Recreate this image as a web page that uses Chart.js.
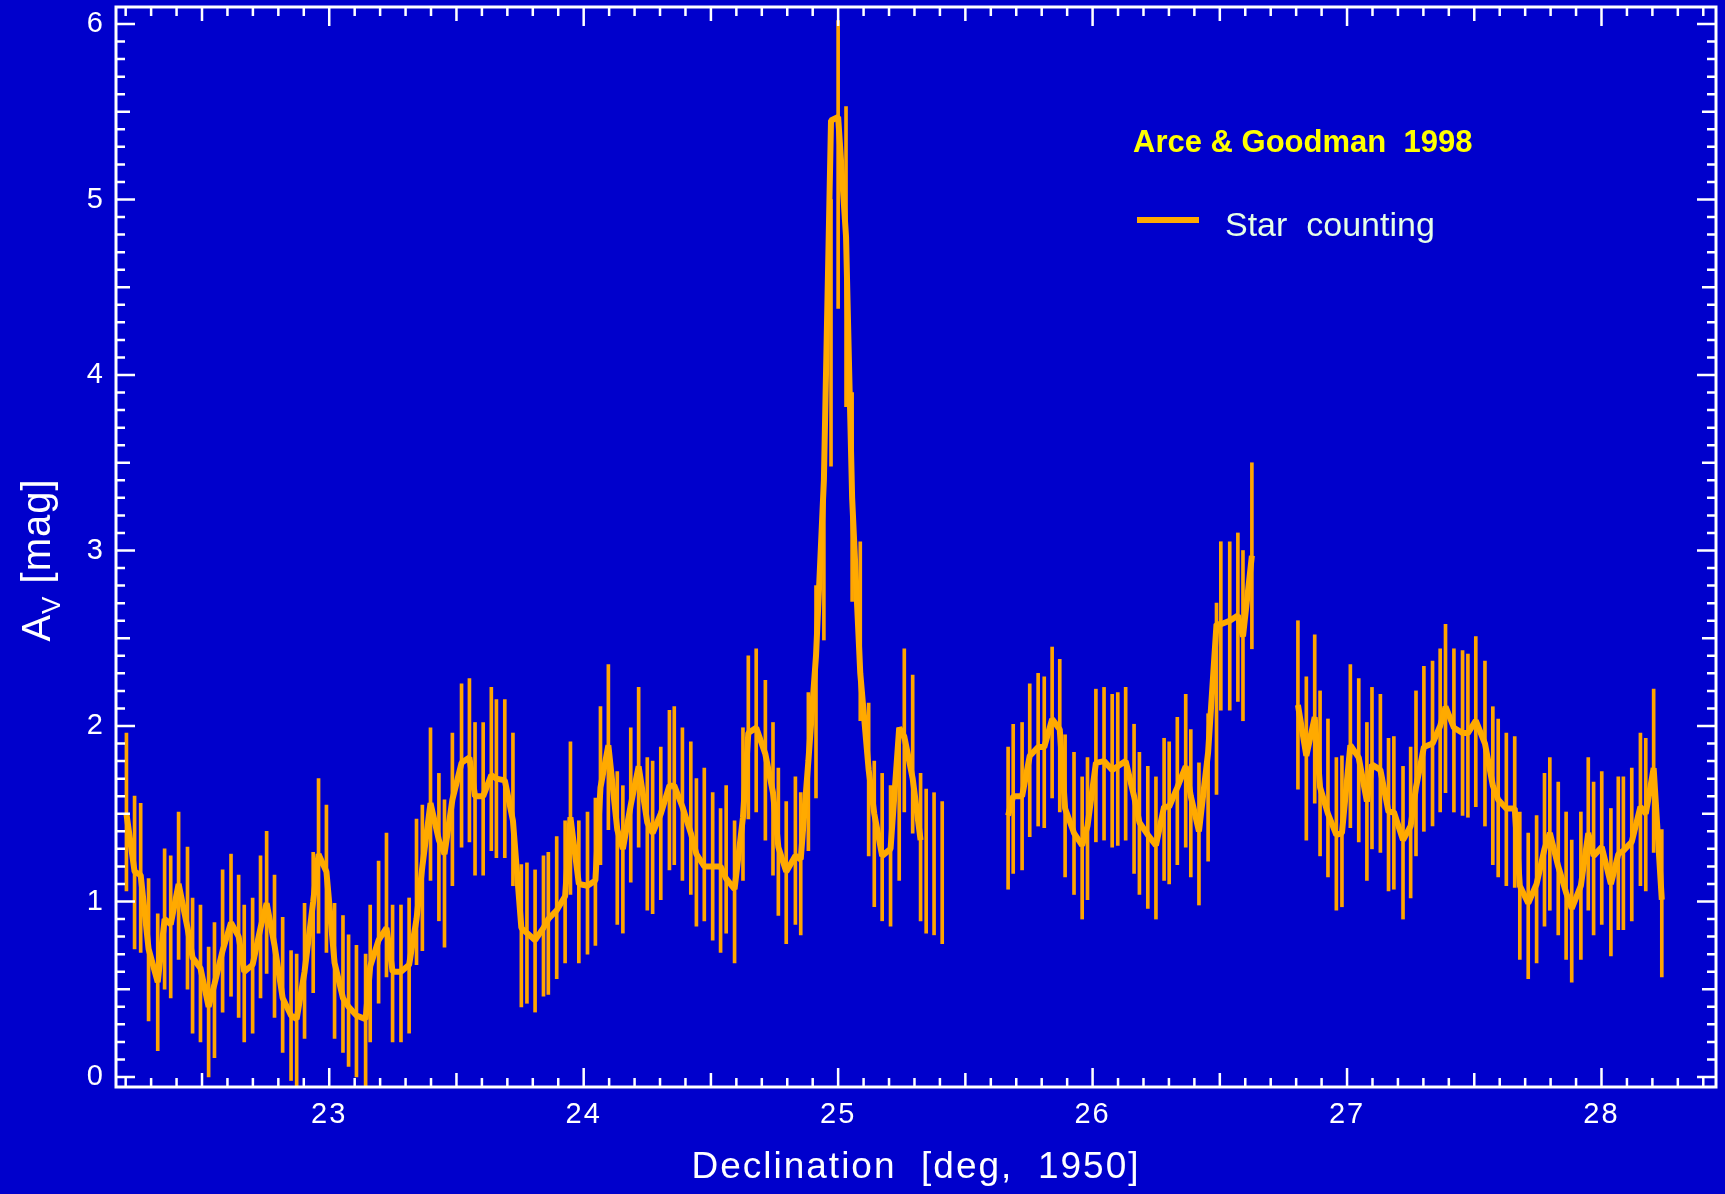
<!DOCTYPE html>
<html>
<head>
<meta charset="utf-8">
<script src="https://cdn.jsdelivr.net/npm/chart.js@4.4.1/dist/chart.umd.min.js"></script>
<style>
  html, body { margin: 0; padding: 0; background: #0000cc; overflow: hidden; }
  canvas { display: block; }
</style>
</head>
<body>
<canvas id="myChart" width="1725" height="1194"></canvas>
<script>
// Declination [deg] of each sample
const dec = [
  22.203, 22.235, 22.259, 22.290, 22.326, 22.353, 22.377, 22.408, 22.443, 22.463, 22.494, 22.526,
  22.549, 22.581, 22.614, 22.644, 22.666, 22.699, 22.730, 22.754, 22.785, 22.817, 22.850, 22.872,
  22.903, 22.937, 22.958, 22.989, 23.021, 23.054, 23.076, 23.107, 23.143, 23.161, 23.194, 23.225,
  23.249, 23.282, 23.314, 23.343, 23.366, 23.398, 23.431, 23.453, 23.484, 23.520, 23.551, 23.573,
  23.605, 23.637, 23.657, 23.690, 23.722, 23.755, 23.777, 23.809, 23.842, 23.861, 23.894, 23.927,
  23.948, 23.981, 24.015, 24.046, 24.066, 24.097, 24.132, 24.154, 24.185, 24.216, 24.250, 24.271,
  24.303, 24.337, 24.356, 24.388, 24.421, 24.443, 24.474, 24.507, 24.538, 24.560, 24.593, 24.626,
  24.647, 24.678, 24.714, 24.744, 24.765, 24.796, 24.832, 24.853, 24.883, 24.913, 24.944, 24.972,
  25.000, 25.031, 25.055, 25.087, 25.120, 25.142, 25.173, 25.206, 25.240, 25.260, 25.293, 25.324,
  25.346, 25.377, 25.409,
  25.668, 25.688, 25.723, 25.753, 25.786, 25.810, 25.841, 25.871, 25.892, 25.927, 25.959, 25.980,
  26.013, 26.045, 26.077, 26.099, 26.130, 26.163, 26.184, 26.217, 26.249, 26.281, 26.301, 26.333,
  26.366, 26.386, 26.418, 26.454, 26.487, 26.504, 26.539, 26.571, 26.591, 26.626,
  26.807, 26.840, 26.873, 26.894, 26.925, 26.958, 26.980, 27.013, 27.046, 27.078, 27.098, 27.131,
  27.163, 27.184, 27.220, 27.250, 27.271, 27.302, 27.336, 27.366, 27.387, 27.420, 27.454, 27.475,
  27.506, 27.542, 27.573, 27.594, 27.626, 27.659, 27.679, 27.712, 27.745, 27.776, 27.797, 27.830,
  27.861, 27.883, 27.919, 27.948, 27.969, 28.001, 28.037, 28.066, 28.086, 28.119, 28.153, 28.174,
  28.205, 28.237
];

// A_V from star counting (the thick line)
const av = [
  1.50, 1.17, 1.15, 0.73, 0.54, 0.90, 0.87, 1.10, 0.85, 0.68, 0.62, 0.40,
  0.53, 0.72, 0.88, 0.80, 0.60, 0.64, 0.85, 0.99, 0.75, 0.45, 0.35, 0.33,
  0.60, 1.00, 1.27, 1.17, 0.65, 0.45, 0.40, 0.35, 0.33, 0.63, 0.78, 0.85,
  0.60, 0.60, 0.64, 0.90, 1.20, 1.56, 1.35, 1.27, 1.58, 1.79, 1.82, 1.60,
  1.60, 1.72, 1.70, 1.69, 1.46, 0.85, 0.82, 0.78, 0.85, 0.90, 0.95, 1.03,
  1.48, 1.10, 1.09, 1.12, 1.65, 1.89, 1.41, 1.30, 1.55, 1.77, 1.45, 1.39,
  1.50, 1.66, 1.66, 1.54, 1.39, 1.27, 1.20, 1.20, 1.20, 1.13, 1.07, 1.48,
  1.96, 1.99, 1.84, 1.62, 1.31, 1.17, 1.26, 1.24, 1.80, 2.40, 3.40, 5.45,
  5.47, 4.79, 3.30, 2.30, 1.75, 1.50, 1.26, 1.30, 1.99, 1.94, 1.70, 1.35,
  null, null, null,
  1.49, 1.60, 1.60, 1.83, 1.88, 1.88, 2.04, 1.98, 1.53, 1.39, 1.32, 1.43,
  1.79, 1.80, 1.75, 1.77, 1.80, 1.60, 1.45, 1.38, 1.32, 1.54, 1.54, 1.65,
  1.77, 1.60, 1.40, 1.85, 2.58, 2.58, 2.60, 2.63, 2.51, 2.97,
  2.12, 1.83, 2.05, 1.65, 1.50, 1.38, 1.39, 1.89, 1.82, 1.57, 1.78, 1.75,
  1.51, 1.51, 1.35, 1.43, 1.65, 1.88, 1.90, 2.00, 2.11, 1.99, 1.96, 1.96,
  2.03, 1.90, 1.66, 1.58, 1.53, 1.53, 1.09, 0.99, 1.10, 1.30, 1.39, 1.20,
  1.05, 0.96, 1.09, 1.39, 1.26, 1.31, 1.10, 1.27, 1.29, 1.34, 1.54, 1.50,
  1.76, 1.01
];

// error bar ends
const avLo = [
  1.06, 0.73, 0.71, 0.32, 0.15, 0.50, 0.45, 0.67, 0.50, 0.25, 0.20, 0.00,
  0.11, 0.37, 0.46, 0.34, 0.20, 0.25, 0.45, 0.59, 0.34, 0.14, -0.02, -0.08,
  0.22, 0.48, 0.82, 0.71, 0.22, 0.14, 0.06, 0.00, -0.07, 0.20, 0.42, 0.57,
  0.20, 0.20, 0.25, 0.64, 0.72, 1.12, 0.89, 0.74, 1.09, 1.31, 1.34, 1.15,
  1.15, 1.29, 1.25, 1.25, 1.09, 0.40, 0.42, 0.37, 0.46, 0.47, 0.56, 0.65,
  1.04, 0.65, 0.70, 0.75, 1.21, 1.41, 0.87, 0.82, 1.11, 1.31, 0.95, 0.93,
  1.01, 1.18, 1.21, 1.12, 1.04, 0.86, 0.89, 0.78, 0.71, 0.82, 0.65, 1.12,
  1.47, 1.51, 1.35, 1.15, 0.92, 0.76, 0.87, 0.81, 1.29, 1.59, 2.49, 3.48,
  4.38, 3.82, 2.71, 2.03, 1.26, 0.97, 0.89, 0.86, 1.12, 1.51, 1.39, 0.89,
  0.82, 0.81, 0.76,
  1.07, 1.16, 1.18, 1.37, 1.43, 1.42, 1.59, 1.51, 1.14, 1.04, 0.90, 1.01,
  1.34, 1.35, 1.31, 1.32, 1.35, 1.16, 1.04, 0.96, 0.90, 1.12, 1.10, 1.21,
  1.31, 1.14, 0.98, 1.23, 1.61, 2.09, 2.09, 2.14, 2.03, 2.44,
  1.64, 1.35, 1.56, 1.26, 1.14, 0.95, 0.97, 1.42, 1.34, 1.12, 1.30, 1.28,
  1.06, 1.07, 0.90, 1.02, 1.26, 1.40, 1.43, 1.51, 1.62, 1.51, 1.49, 1.48,
  1.54, 1.43, 1.21, 1.14, 1.09, 1.08, 0.67, 0.56, 0.65, 0.86, 0.95, 0.81,
  0.67, 0.54, 0.67, 0.95, 0.81, 0.87, 0.69, 0.84, 0.84, 0.89, 1.09, 1.06,
  1.28, 0.57
];

const avHi = [
  1.96, 1.60, 1.56, 1.13, 0.93, 1.30, 1.26, 1.51, 1.31, 1.02, 0.98, 0.74,
  0.88, 1.18, 1.27, 1.15, 0.98, 1.02, 1.26, 1.40, 1.15, 0.91, 0.72, 0.70,
  0.99, 1.28, 1.70, 1.55, 0.99, 0.92, 0.81, 0.75, 0.70, 0.98, 1.23, 1.39,
  0.98, 0.98, 1.02, 1.47, 1.55, 1.99, 1.73, 1.58, 1.96, 2.24, 2.27, 2.02,
  2.02, 2.22, 2.15, 2.15, 1.96, 1.21, 1.22, 1.18, 1.26, 1.28, 1.37, 1.46,
  1.91, 1.46, 1.51, 1.59, 2.11, 2.35, 1.74, 1.66, 1.99, 2.22, 1.82, 1.80,
  1.88, 2.09, 2.11, 1.99, 1.91, 1.70, 1.76, 1.62, 1.53, 1.66, 1.46, 1.99,
  2.40, 2.44, 2.26, 2.02, 1.76, 1.57, 1.71, 1.62, 2.19, 2.80, 3.65, 5.00,
  6.02, 5.53, 3.90, 3.05, 2.13, 1.80, 1.73, 1.66, 1.99, 2.44, 2.29, 1.73,
  1.64, 1.62, 1.57,
  1.88, 2.01, 2.02, 2.24, 2.30, 2.28, 2.45, 2.38, 1.95, 1.85, 1.71, 1.82,
  2.21, 2.22, 2.18, 2.19, 2.22, 2.01, 1.85, 1.77, 1.71, 1.93, 1.91, 2.05,
  2.18, 1.98, 1.79, 2.07, 2.70, 3.05, 3.05, 3.10, 3.00, 3.50,
  2.60, 2.28, 2.52, 2.20, 2.04, 1.82, 1.83, 2.35, 2.27, 2.02, 2.22, 2.18,
  1.93, 1.94, 1.77, 1.88, 2.20, 2.34, 2.37, 2.44, 2.58, 2.44, 2.43, 2.41,
  2.51, 2.37, 2.11, 2.04, 1.96, 1.94, 1.51, 1.39, 1.49, 1.73, 1.82, 1.68,
  1.51, 1.35, 1.51, 1.82, 1.68, 1.74, 1.53, 1.71, 1.71, 1.76, 1.96, 1.93,
  2.21, 1.41
];

const xTicks = [23, 24, 25, 26, 27, 28];
const yTicks = [0, 1, 2, 3, 4, 5, 6];

const legendTitle = "Arce & Goodman  1998";
const seriesName = "Star  counting";

const FONT = '"Liberation Sans", Arial, Helvetica, sans-serif';
const LINE_COLOR = "#ffaa00";
const BAR_COLOR = "#ffa500";

// frame plus inward ticks on all four sides
const frameTicks = {
  id: "frameTicks",
  beforeDraw(chart) {
    chart.ctx.letterSpacing = "2px";
  },
  afterDatasetsDraw(chart) {
    const { ctx, chartArea: a, scales } = chart;
    const x = scales.x;
    const y = scales.y;
    ctx.save();
    ctx.strokeStyle = "#ffffff";
    ctx.lineWidth = 3;
    ctx.strokeRect(a.left, a.top, a.right - a.left, a.bottom - a.top);

    ctx.lineWidth = 2.5;
    ctx.beginPath();
    for (let k = Math.ceil(x.min * 10); k <= Math.floor(x.max * 10); k++) {
      const px = x.getPixelForValue(k / 10);
      const len = k % 10 === 0 ? 19 : k % 5 === 0 ? 14 : 9;
      ctx.moveTo(px, a.bottom);
      ctx.lineTo(px, a.bottom - len);
      ctx.moveTo(px, a.top);
      ctx.lineTo(px, a.top + len);
    }
    for (let k = Math.ceil(y.min * 10); k <= Math.floor(y.max * 10); k++) {
      const py = y.getPixelForValue(k / 10);
      const len = k % 10 === 0 ? 19 : k % 5 === 0 ? 14 : 9;
      ctx.moveTo(a.left, py);
      ctx.lineTo(a.left + len, py);
      ctx.moveTo(a.right, py);
      ctx.lineTo(a.right - len, py);
    }
    ctx.stroke();
    ctx.restore();
  },
  afterDraw(chart) {
    const { ctx, chartArea: a } = chart;
    ctx.save();

    // y axis title with subscript V
    ctx.translate(36, (a.top + a.bottom) / 2 + 13);
    ctx.rotate(-Math.PI / 2);
    ctx.fillStyle = "#ffffff";
    ctx.textBaseline = "alphabetic";
    ctx.letterSpacing = "1px";
    ctx.font = "40px " + FONT;
    const wA = ctx.measureText("A").width;
    ctx.font = "26px " + FONT;
    const wV = ctx.measureText("V").width;
    ctx.font = "40px " + FONT;
    const wRest = ctx.measureText(" [mag]").width;
    let tx = -(wA + wV + wRest) / 2;
    ctx.fillText("A", tx, 14);
    tx += wA;
    ctx.font = "26px " + FONT;
    ctx.fillText("V", tx, 24);
    tx += wV;
    ctx.font = "40px " + FONT;
    ctx.fillText(" [mag]", tx, 14);
    ctx.restore();

    // legend
    ctx.save();
    ctx.textBaseline = "alphabetic";
    ctx.letterSpacing = "0px";
    ctx.font = "bold 31px " + FONT;
    ctx.fillStyle = "#ffff00";
    ctx.fillText(legendTitle, 1133, 152);

    ctx.strokeStyle = LINE_COLOR;
    ctx.lineWidth = 6;
    ctx.beginPath();
    ctx.moveTo(1137, 220);
    ctx.lineTo(1199, 220);
    ctx.stroke();

    ctx.font = "34px " + FONT;
    ctx.fillStyle = "#e6ffe6";
    ctx.fillText(seriesName, 1225, 236);
    ctx.restore();
  },
};

function initChart() {
  const ctx = document.getElementById("myChart");

  const lineData = dec.map((d, i) => ({ x: d, y: av[i] }));
  const barData = dec.map((d, i) => ({ x: d, y: [avLo[i], avHi[i]] }));

  return new Chart(ctx, {
    type: "line",
    data: {
      datasets: [
        {
          label: seriesName,
          data: lineData,
          borderColor: LINE_COLOR,
          borderWidth: 6,
          borderJoinStyle: "bevel",
          pointRadius: 0,
          tension: 0,
          spanGaps: false,
          order: 0,
          segment: {
            // no line across the two empty stretches of sky
            borderColor: (c) =>
              c.p1.parsed.x - c.p0.parsed.x > 0.1 ? "rgba(0,0,0,0)" : undefined,
          },
        },
        {
          type: "bar",
          label: "error",
          data: barData,
          backgroundColor: BAR_COLOR,
          borderWidth: 0,
          barThickness: 3,
          order: 1,
        },
      ],
    },
    options: {
      responsive: false,
      devicePixelRatio: 1,
      animation: false,
      layout: { padding: { top: 7, right: 9, left: 0, bottom: 0 } },
      plugins: {
        legend: { display: false },
        tooltip: { enabled: false },
      },
      scales: {
        x: {
          type: "linear",
          min: 22.162,
          max: 28.45,
          offset: false,
          bounds: "data",
          grid: { display: false, drawTicks: false },
          border: { display: false },
          afterBuildTicks: (scale) => {
            scale.ticks = xTicks.map((v) => ({ value: v }));
          },
          afterFit: (scale) => {
            scale.height = 107;
            scale.paddingLeft = 0;
            scale.paddingRight = 0;
          },
          ticks: {
            color: "#ffffff",
            font: { family: FONT, size: 29 },
            padding: 11,
            maxRotation: 0,
            autoSkip: false,
          },
          title: {
            display: true,
            text: "Declination  [deg,  1950]",
            color: "#ffffff",
            font: { family: FONT, size: 37, lineHeight: 1 },
            padding: { top: 0, bottom: 8 },
          },
        },
        y: {
          type: "linear",
          min: -0.057,
          max: 6.097,
          bounds: "data",
          grid: { display: false, drawTicks: false },
          border: { display: false },
          afterBuildTicks: (scale) => {
            scale.ticks = yTicks.map((v) => ({ value: v }));
          },
          afterFit: (scale) => {
            scale.width = 116;
            scale.paddingTop = 0;
            scale.paddingBottom = 0;
          },
          ticks: {
            color: "#ffffff",
            font: { family: FONT, size: 29 },
            padding: 11,
            autoSkip: false,
          },
        },
      },
    },
    plugins: [frameTicks],
  });
}

initChart();
</script>
</body>
</html>
